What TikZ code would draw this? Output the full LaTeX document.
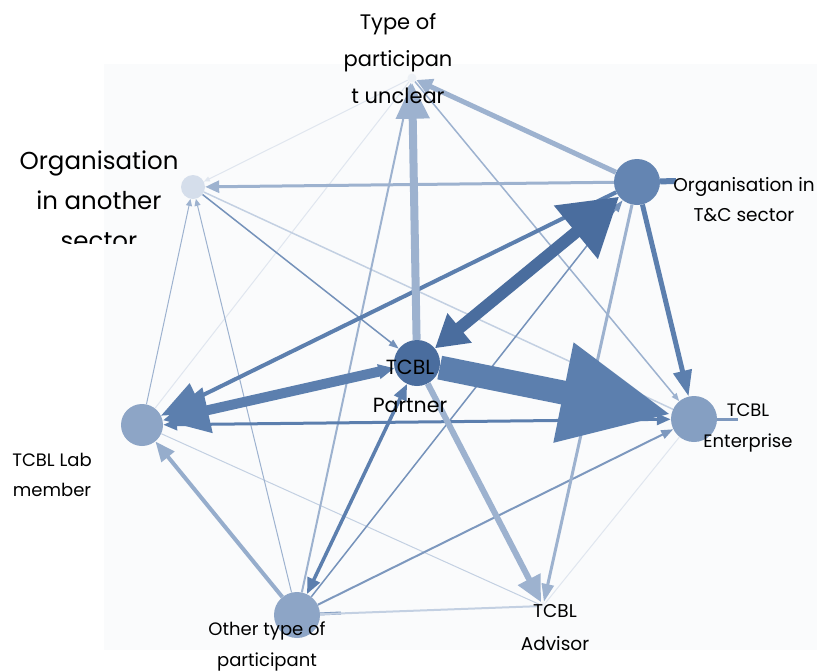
\documentclass[tikz,border=0pt]{standalone}
\usepackage{fontspec}
\setmainfont{Poppins}
\usetikzlibrary{arrows.meta}

\definecolor{netdark}{HTML}{4A6D9E}
\definecolor{netmid}{HTML}{5C7FAE}
\definecolor{netlight}{HTML}{9DB2CF}
\definecolor{netpale}{HTML}{C3D0E2}
\definecolor{netfaint}{HTML}{E0E6EF}
\definecolor{netback}{HTML}{FAFBFC}

\tikzset{
  vertex/.style={circle,inner sep=0pt,minimum size=#1},
  tag/.style={align=center,text=black,inner sep=0pt},
  ahead/.style 2 args={-{Triangle[length=#1,width=#2]}},
}

\begin{document}
\begin{tikzpicture}[x=1pt,y=-1pt]

% Frame
\useasboundingbox (0,0) rectangle (817,672);
\fill[netback] (104,64) rectangle (817,650);

% Participant types
\node[vertex=46pt,fill=netdark] (partner) at (417,363) {};
\node[vertex=46pt,fill=netmid!95] (tcsector) at (637,182) {};
\node[vertex=46pt,fill=netmid!75] (enterprise) at (694,419) {};
\node[vertex=42pt,fill=netmid!70] (labmember) at (142,425) {};
\node[vertex=46pt,fill=netmid!70] (othertype) at (297,615) {};
\node[vertex=24pt,fill=netpale!70] (othersector) at (193,187) {};
\node[vertex=9pt,fill=netfaint!60] (unclear) at (412,78) {};
\node[vertex=8pt,fill=netfaint!50] (advisor) at (543,606) {};

% Self-loop stubs
\coordinate (tcloop) at (676,181);
\coordinate (entloop) at (738,419);
\coordinate (othloop) at (341,613);
\draw[netmid,line width=6pt] (tcsector) -- (tcloop);
\draw[netmid!80,line width=3pt] (enterprise) -- (entloop);
\draw[netmid!80,line width=3pt] (othertype) -- (othloop);

% Faint links
\draw[netfaint,line width=1pt,ahead={6pt}{5pt}] (unclear) -- (othersector);
\draw[netfaint,line width=1pt] (labmember) -- (unclear);
\draw[netfaint,line width=1pt] (enterprise) -- (advisor);
\draw[netpale,line width=1pt] (labmember) -- (advisor);
\draw[netpale,line width=1.5pt] (othersector) -- (enterprise);
\draw[netpale,line width=2pt] (othertype) -- (advisor);
\draw[netlight,line width=1pt,ahead={7pt}{6pt}] (labmember) -- (othersector);
\draw[netlight,line width=1pt,ahead={7pt}{6pt}] (othertype) -- (othersector);
\draw[netlight,line width=1.5pt,ahead={8pt}{6pt}] (unclear) -- (enterprise);
\draw[netlight,line width=2pt,ahead={8pt}{6pt}] (othertype) -- (unclear);

% Medium links
\draw[netmid!85,line width=1.5pt,ahead={10pt}{7pt}] (othersector) -- (partner);
\draw[netmid!85,line width=1.5pt,ahead={12pt}{8pt}] (othertype) -- (tcsector);
\draw[netmid!80,line width=2pt,ahead={12pt}{9pt}] (othertype) -- (enterprise);
\draw[netlight,line width=3pt,ahead={14pt}{12pt}] (tcsector) -- (othersector);
\draw[netlight,line width=3pt,ahead={18pt}{12pt}] (tcsector) -- (advisor);
\draw[netlight,line width=5pt,ahead={16pt}{16pt}] (tcsector) -- (unclear);
\draw[netlight!90!netmid,line width=4pt,ahead={20pt}{16pt}] (othertype) -- (labmember);
\draw[netmid,line width=3pt,{Triangle[length=14pt,width=11pt]}-{Triangle[length=14pt,width=11pt]}] (labmember) -- (enterprise);
\draw[netmid,line width=3.5pt,{Triangle[length=16pt,width=13pt]}-{Triangle[length=16pt,width=13pt]}] (othertype) -- (partner);
\draw[netmid,line width=5pt,ahead={26pt}{18pt}] (tcsector) -- (enterprise);
\draw[netmid,line width=4pt,ahead={40pt}{32pt}] (tcsector) -- (labmember);

% Heavy links
\draw[netlight,line width=6pt,ahead={26pt}{24pt}] (partner) -- (advisor);
\draw[netlight,line width=8pt,ahead={36pt}{32pt}] (partner) -- (unclear);
\draw[netmid,line width=10pt,{Triangle[length=16pt,width=14pt]}-{Triangle[length=46pt,width=44pt]}] (partner) -- (labmember);
\draw[netmid,line width=24pt,ahead={110pt}{95pt}] (partner) -- (enterprise);
\draw[netdark,line width=12pt,{Triangle[length=32pt,width=36pt]}-{Triangle[length=56pt,width=66pt]}] (partner) -- (tcsector);

% Labels
\node[tag,font=\fontsize{21}{37}\selectfont] (unclearlbl) at (398,59) {Type of\\participan\\t unclear};
\begin{scope}
\clip (0,120) rectangle (190,243);
\node[tag,font=\fontsize{24.5}{40}\selectfont] (othersectorlbl) at (99,200) {Organisation\\in another\\sector};
\end{scope}
\node[tag,font=\fontsize{18.5}{30}\selectfont] (tcsectorlbl) at (744,200) {Organisation in\\T\&C sector};
\node[tag,font=\fontsize{20.5}{38}\selectfont] (partnerlbl) at (410,386) {TCBL\\Partner};
\node[tag,font=\fontsize{18}{30}\selectfont] (labmemberlbl) at (52,475) {TCBL Lab\\member};
\node[tag,font=\fontsize{18}{31}\selectfont] (enterpriselbl) at (748,428) {TCBL\\Enterprise};
\node[tag,font=\fontsize{18}{31}\selectfont] (othertypelbl) at (267,646) {Other type of\\participant};
\node[tag,font=\fontsize{18.5}{33}\selectfont] (advisorlbl) at (555,628) {TCBL\\Advisor};

\end{tikzpicture}
\end{document}
